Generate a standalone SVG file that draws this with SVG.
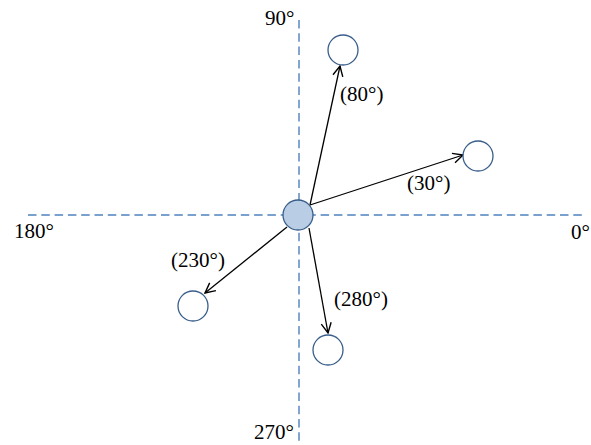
<svg xmlns="http://www.w3.org/2000/svg" width="591" height="445" viewBox="0 0 591 445">
<style>
.axis{stroke:#4f81bd;stroke-width:1.4;stroke-dasharray:8.5,4.8;fill:none}
.node{fill:#fff;stroke:#385d8a;stroke-width:1.3}
.center{fill:#b9cde5;stroke:#385d8a;stroke-width:1.3}
.arr{stroke:#000;stroke-width:1.3;fill:none;marker-end:url(#ah)}
text{font-family:"Liberation Serif","Times New Roman",serif;font-size:21px;fill:#000}
</style>
<defs>
<marker id="ah" viewBox="0 0 12 12" refX="11" refY="6" markerWidth="12" markerHeight="12" markerUnits="userSpaceOnUse" orient="auto">
<path d="M1,1 L11,6 L1,11" fill="none" stroke="#000" stroke-width="1.4"/>
</marker>
</defs>
<g id="axes">
<line class="axis" x1="299" y1="20" x2="299" y2="445"/>
<line class="axis" x1="28" y1="215" x2="584" y2="215"/>
</g>
<g id="connectors">
<line class="arr" x1="310" y1="205" x2="340" y2="66"/>
<line class="arr" x1="310" y1="205" x2="463" y2="155"/>
<line class="arr" x1="287" y1="227" x2="205" y2="293"/>
<line class="arr" x1="309" y1="228" x2="328" y2="333"/>
</g>
<g id="center"><circle class="center" cx="298" cy="215" r="15"/></g>
<g id="n80"><circle class="node" cx="343" cy="50" r="15"/></g>
<g id="n30"><circle class="node" cx="478" cy="156" r="15"/></g>
<g id="n230"><circle class="node" cx="193" cy="306" r="15"/></g>
<g id="n280"><circle class="node" cx="328" cy="350" r="15"/></g>
<g id="labels">
<text x="265" y="25">90°</text>
<text x="14" y="238">180°</text>
<text x="571" y="239">0°</text>
<text x="254" y="439">270°</text>
<text x="340" y="101">(80°)</text>
<text x="407" y="190">(30°)</text>
<text x="171" y="267">(230°)</text>
<text x="334" y="306">(280°)</text>
</g>
</svg>
